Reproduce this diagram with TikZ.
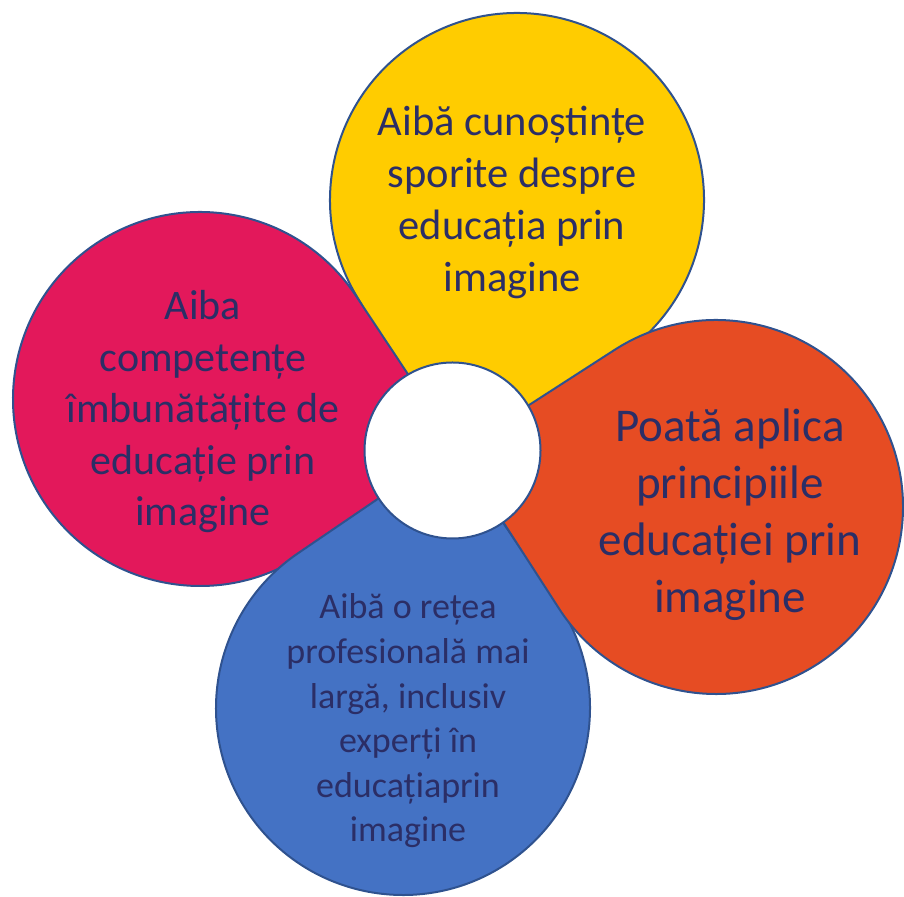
\documentclass[tikz,border=0pt]{standalone}
\usepackage{fontspec}
\setmainfont{Carlito}
\definecolor{yel}{HTML}{FFCC00}
\definecolor{pnk}{HTML}{E3185B}
\definecolor{org}{HTML}{E64C23}
\definecolor{blu}{HTML}{4472C4}
\definecolor{edge}{HTML}{2F528F}
\definecolor{txt}{HTML}{2B2E66}
\begin{document}
\begin{tikzpicture}[x=1pt,y=1pt,
  petal/.style={draw=edge, line width=2pt, line join=miter},
  label/.style={align=center, text=txt, inner sep=0pt}]
\useasboundingbox (0,0) rectangle (904,896);
% petals: circle radius 187 with a square corner pointing to the hub
\path[petal, fill=yel, shift={(517,696)}, rotate=255.43]
  (-45:187) -- (0:264.5) -- (45:187) arc[start angle=45, end angle=315, radius=187pt] -- cycle;
\path[petal, fill=pnk, shift={(200,497)}, rotate=-11.44]
  (-45:187) -- (0:264.5) -- (45:187) arc[start angle=45, end angle=315, radius=187pt] -- cycle;
\path[petal, fill=blu, shift={(403,188)}, rotate=79.25]
  (-45:187) -- (0:264.5) -- (45:187) arc[start angle=45, end angle=315, radius=187pt] -- cycle;
\path[petal, fill=org, shift={(716,389)}, rotate=167.82]
  (-45:187) -- (0:264.5) -- (45:187) arc[start angle=45, end angle=315, radius=187pt] -- cycle;
% hub
\node[circle, draw=edge, line width=2pt, fill=white, minimum size=176pt, inner sep=0pt] (hub) at (452.5,445.5) {};
% texts
\node[label, font=\fontsize{42.5}{52}\selectfont] (tyel) at (512,694)
  {Aibă cunoștințe\\sporite despre\\educația prin\\imagine};
\node[label, font=\fontsize{42}{51.5}\selectfont] (tpnk) at (203,484)
  {Aiba\\competențe\\îmbunătățite de\\educație prin\\imagine};
\node[label, font=\fontsize{47}{57}\selectfont] (torg) at (730,381)
  {Poată aplica\\principiile\\educației prin\\imagine};
\node[label, font=\fontsize{36}{44.6}\selectfont] (tblu) at (408,175)
  {Aibă o rețea\\profesională mai\\largă, inclusiv\\experți în\\educațiaprin\\imagine};
\end{tikzpicture}
\end{document}
